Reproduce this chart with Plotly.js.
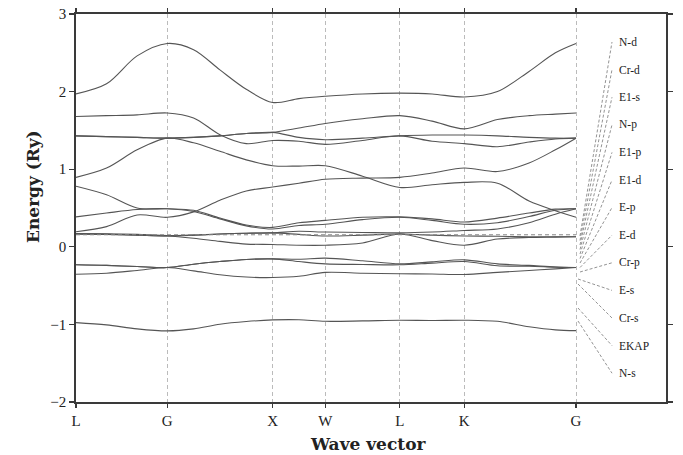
<!DOCTYPE html>
<html><head><meta charset="utf-8">
<script src="https://cdn.plot.ly/plotly-3.0.1.min.js"></script>
<style>html,body{margin:0;padding:0;background:#fff;}#chart{width:683px;height:455px;}</style>
</head><body><div id="chart"></div>
<script>
// k-path positions (L-G-X-W-L-K-G, fcc path lengths)
const kpoints = [0, 0.29, 0.58, 0.866, 1.116, 1.366, 1.616, 1.866, 2.116, 2.366, 2.72, 3.073, 3.38, 3.685, 4.0, 4.3, 4.55, 4.746];
const tickPos = [0, 0.866, 1.866, 2.366, 3.073, 3.685, 4.746];
const tickLabels = ['L', 'G', 'X', 'W', 'L', 'K', 'G'];

// band energies (Ry) read at each k-point
const band1  = [1.97, 2.10, 2.46, 2.62, 2.54, 2.28, 2.03, 1.86, 1.91, 1.94, 1.97, 1.98, 1.97, 1.93, 2.00, 2.26, 2.50, 2.62];
const band2  = [1.68, 1.69, 1.70, 1.725, 1.66, 1.445, 1.33, 1.37, 1.36, 1.32, 1.37, 1.43, 1.36, 1.33, 1.29, 1.35, 1.39, 1.40];
const band3  = [1.43, 1.42, 1.41, 1.40, 1.41, 1.43, 1.46, 1.475, 1.53, 1.59, 1.65, 1.69, 1.62, 1.52, 1.64, 1.69, 1.71, 1.725];
const band4  = [1.43, 1.42, 1.41, 1.40, 1.41, 1.43, 1.46, 1.475, 1.41, 1.38, 1.40, 1.43, 1.44, 1.44, 1.43, 1.41, 1.40, 1.40];
const band5  = [0.895, 1.015, 1.25, 1.40, 1.34, 1.23, 1.12, 1.045, 1.04, 1.045, 0.91, 0.765, 0.80, 0.83, 0.82, 0.59, 0.465, 0.38];
const band6  = [0.78, 0.67, 0.50, 0.49, 0.47, 0.37, 0.28, 0.25, 0.31, 0.34, 0.38, 0.385, 0.36, 0.32, 0.37, 0.435, 0.485, 0.49];
const band7  = [0.385, 0.435, 0.48, 0.49, 0.455, 0.36, 0.27, 0.23, 0.275, 0.29, 0.35, 0.38, 0.34, 0.29, 0.31, 0.39, 0.47, 0.49];
const band8  = [0.194, 0.26, 0.41, 0.38, 0.45, 0.60, 0.72, 0.77, 0.82, 0.87, 0.885, 0.895, 0.95, 1.015, 0.97, 1.08, 1.25, 1.40];
const band9  = [0.17, 0.168, 0.16, 0.145, 0.15, 0.165, 0.175, 0.18, 0.20, 0.19, 0.185, 0.18, 0.19, 0.21, 0.23, 0.31, 0.42, 0.49];
const band10 = [0.165, 0.16, 0.15, 0.14, 0.11, 0.07, 0.035, 0.03, 0.02, 0.02, 0.05, 0.165, 0.08, 0.02, 0.10, 0.12, 0.125, 0.13];
const band11 = [0.165, 0.16, 0.15, 0.14, 0.15, 0.165, 0.175, 0.18, 0.16, 0.14, 0.15, 0.165, 0.15, 0.14, 0.135, 0.13, 0.13, 0.13];
const band12 = [-0.232, -0.24, -0.254, -0.267, -0.224, -0.19, -0.163, -0.155, -0.16, -0.146, -0.18, -0.22, -0.194, -0.168, -0.22, -0.24, -0.26, -0.267];
const band13 = [-0.232, -0.24, -0.254, -0.267, -0.224, -0.19, -0.163, -0.155, -0.19, -0.22, -0.228, -0.232, -0.21, -0.19, -0.245, -0.25, -0.262, -0.267];
const band14 = [-0.353, -0.34, -0.305, -0.267, -0.31, -0.36, -0.39, -0.396, -0.38, -0.33, -0.34, -0.348, -0.35, -0.357, -0.33, -0.305, -0.285, -0.267];
const band15 = [-0.977, -1.006, -1.058, -1.084, -1.058, -0.998, -0.963, -0.942, -0.94, -0.96, -0.955, -0.946, -0.95, -0.946, -0.96, -1.03, -1.07, -1.08];

const fermiLevel = 0.155;
const curveLabels = ['N-d', 'Cr-d', 'E1-s', 'N-p', 'E1-p', 'E1-d', 'E-p', 'E-d', 'Cr-p', 'E-s', 'Cr-s', 'EKAP', 'N-s'];

const bands = [band1, band2, band3, band4, band5, band6, band7, band8, band9, band10, band11, band12, band13, band14, band15];

const traces = bands.map(b => ({
  x: kpoints, y: b, mode: 'lines', hoverinfo: 'skip', showlegend: false,
  line: {color: '#555', width: 1.1, shape: 'spline', smoothing: 0.9}
}));
traces.push({
  x: [kpoints[0], kpoints[kpoints.length - 1]], y: [fermiLevel, fermiLevel],
  mode: 'lines', hoverinfo: 'skip', showlegend: false,
  line: {color: '#888', width: 1, dash: '4px,3px'}
});

// geometry helpers (pixel -> data) for the label leaders
const W = 683, H = 455, mL = 76, mR = 17, mT = 14, mB = 53;
const xMax = 5.60, yMin = -2, yMax = 3;
const pxX = px => (px - mL) / (W - mL - mR) * xMax;
const pxY = py => yMax - (py - mT) / (H - mT - mB) * (yMax - yMin);
const paperX = px => (px - mL) / (W - mL - mR);
const paperY = py => (H - mB - py) / (H - mT - mB);

const shapes = [], annotations = [];
curveLabels.forEach((lab, i) => {
  const ly = 42 + i * 27.6;
  let sx, sy;
  if (i < 9) { sx = 580; sy = 236 + i * 4.5; }
  else { sx = 578; sy = [279, 284, 308, 321][i - 9]; }
  shapes.push({type: 'line', xref: 'x', yref: 'y', x0: pxX(sx), y0: pxY(sy), x1: pxX(612), y1: pxY(ly),
    line: {color: '#777', width: 0.8, dash: '3px,2px'}});
  annotations.push({x: pxX(617), y: pxY(ly), xref: 'x', yref: 'y', text: lab, showarrow: false,
    xanchor: 'left', yanchor: 'middle', font: {family: 'Liberation Serif', size: 11.5, color: '#222'}});
});

annotations.push({xref: 'paper', yref: 'paper', x: paperX(33), y: paperY(187), text: '<b>Energy (Ry)</b>',
  textangle: -90, showarrow: false, xanchor: 'center', yanchor: 'middle',
  font: {family: 'DejaVu Serif', size: 17, color: '#222'}});
annotations.push({xref: 'paper', yref: 'paper', x: paperX(368), y: paperY(444), text: '<b>Wave vector</b>',
  showarrow: false, xanchor: 'center', yanchor: 'middle',
  font: {family: 'DejaVu Serif', size: 17, color: '#222'}});

const layout = {
  width: W, height: H,
  margin: {l: mL, r: mR, t: mT, b: mB},
  paper_bgcolor: '#fff', plot_bgcolor: '#fff',
  showlegend: false,
  xaxis: {
    range: [0, xMax], tickvals: tickPos, ticktext: tickLabels,
    showgrid: true, gridcolor: '#aaa', griddash: '4px,3px', gridwidth: 0.8,
    zeroline: false, showline: true, linecolor: '#3a3a3a', linewidth: 1.8, mirror: 'ticks',
    ticks: 'outside', ticklen: 4, tickcolor: '#3a3a3a', tickwidth: 1.3,
    tickfont: {family: 'Liberation Serif', size: 15, color: '#222'}
  },
  yaxis: {
    range: [yMin, yMax], dtick: 1, tick0: 0,
    showgrid: false, zeroline: false, showline: true, linecolor: '#3a3a3a', linewidth: 1.8, mirror: 'ticks',
    ticks: 'outside', ticklen: 5, tickcolor: '#3a3a3a', tickwidth: 1.3,
    tickfont: {family: 'Liberation Serif', size: 15, color: '#222'}
  },
  shapes: shapes, annotations: annotations
};

Plotly.newPlot('chart', traces, layout, {staticPlot: true, displayModeBar: false});
</script>
</body></html>
